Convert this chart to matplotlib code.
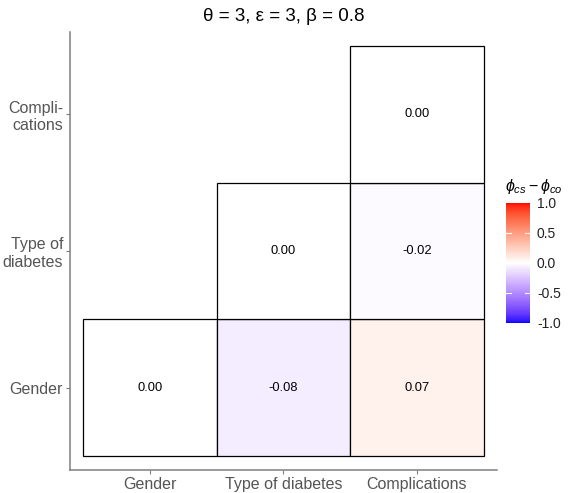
import numpy as np
import matplotlib
matplotlib.use("Agg")
import matplotlib.pyplot as plt
from matplotlib.colors import ListedColormap, Normalize
from matplotlib.patches import Rectangle

plt.rcParams['font.family'] = ['Liberation Sans', 'DejaVu Sans']
plt.rcParams['mathtext.fontset'] = 'custom'
plt.rcParams['mathtext.rm'] = 'Liberation Sans'
plt.rcParams['mathtext.it'] = 'Liberation Sans:italic'

# Variables and the lower-triangular matrix of differences
variables = ["Gender", "Type of diabetes", "Complications"]
y_labels = ["Gender", "Type of\ndiabetes", "Compli-\ncations"]
# (column index, row index, value)
cell_x = [0, 1, 2, 1, 2, 2]
cell_y = [0, 0, 0, 1, 1, 2]
cell_val = [0.00, -0.08, 0.07, 0.00, -0.02, 0.00]
cbar_ticks = [-1.0, -0.5, 0.0, 0.5, 1.0]
title = r"θ = 3, ε = 3, β = 0.8"


# Diverging blue-white-red palette interpolated in CIE Lab
def srgb_to_lab(rgb):
    rgb = np.asarray(rgb, float)
    lin = np.where(rgb <= 0.04045, rgb / 12.92, ((rgb + 0.055) / 1.055) ** 2.4)
    M = np.array([[0.4124, 0.3576, 0.1805],
                  [0.2126, 0.7152, 0.0722],
                  [0.0193, 0.1192, 0.9505]])
    xyz = M @ lin
    white = np.array([0.95047, 1.0, 1.08883])
    t = xyz / white
    f = np.where(t > 216 / 24389, np.cbrt(t), (24389 / 27 * t + 16) / 116)
    return np.array([116 * f[1] - 16, 500 * (f[0] - f[1]), 200 * (f[1] - f[2])])


def lab_to_srgb(lab):
    L, a, b = lab
    fy = (L + 16) / 116
    fx = fy + a / 500
    fz = fy - b / 200
    def finv(f):
        return np.where(f ** 3 > 216 / 24389, f ** 3, (116 * f - 16) / (24389 / 27))
    white = np.array([0.95047, 1.0, 1.08883])
    xyz = np.array([finv(fx), finv(fy), finv(fz)]) * white
    Minv = np.array([[3.2406, -1.5372, -0.4986],
                     [-0.9689, 1.8758, 0.0415],
                     [0.0557, -0.2040, 1.0570]])
    lin = Minv @ xyz
    lin = np.clip(lin, 0, 1)
    rgb = np.where(lin <= 0.0031308, 12.92 * lin, 1.055 * lin ** (1 / 2.4) - 0.055)
    return np.clip(rgb, 0, 1)


lab_lo = srgb_to_lab([0, 0, 1])
lab_mid = srgb_to_lab([1, 1, 1])
lab_hi = srgb_to_lab([1, 0, 0])
colors = []
for t in np.linspace(0, 1, 255):
    if t < 0.5:
        u = t / 0.5
        colors.append(lab_to_srgb(lab_lo + (lab_mid - lab_lo) * u))
    elif t > 0.5:
        u = (t - 0.5) / 0.5
        colors.append(lab_to_srgb(lab_mid + (lab_hi - lab_mid) * u))
    else:
        colors.append(np.array([1.0, 1.0, 1.0]))
cmap = ListedColormap(colors)
norm = Normalize(-1, 1)

fig = plt.figure(figsize=(5.73, 4.93), dpi=100)
W, H = 573, 493
ax = fig.add_axes([70 / W, (493 - 470) / H, 427 / W, 438 / H])

for cx, cy, v in zip(cell_x, cell_y, cell_val):
    ax.add_patch(Rectangle((cx + 0.5, cy + 0.5), 1, 1, facecolor=cmap(norm(v)),
                           edgecolor='black', linewidth=0.9))
    ax.text(cx + 1, cy + 1, f"{v:.2f}", ha='center', va='center',
            fontsize=9.3, color='black')

ax.set_xlim(0.4, 3.6)
ax.set_ylim(0.4, 3.6)
ax.set_xticks([1, 2, 3])
ax.set_xticklabels(variables)
ax.set_yticks([1, 2, 3])
ax.set_yticklabels(y_labels, ha='right', multialignment='right')
for s in ['top', 'right']:
    ax.spines[s].set_visible(False)
for s in ['left', 'bottom']:
    ax.spines[s].set_color('#7f7f7f')
    ax.spines[s].set_linewidth(1.1)
ax.tick_params(axis='both', colors='#7f7f7f', length=3, width=0.8,
               labelsize=11.5, labelcolor='#555555', pad=2)
ax.set_title(title, fontsize=13.5, pad=8)

# Colour bar
cax = fig.add_axes([506 / W, (493 - 323) / H, 24 / W, 120 / H])
grad = np.linspace(-1, 1, 255).reshape(-1, 1)
cax.imshow(grad, aspect='auto', cmap=cmap, norm=norm, origin='lower',
           extent=[0, 1, -1, 1], interpolation='nearest')
cax.set_xlim(0, 1)
cax.set_ylim(-1, 1)
for s in cax.spines.values():
    s.set_visible(False)
cax.set_xticks([])
cax.yaxis.tick_right()
cax.set_yticks(cbar_ticks)
cax.set_yticklabels([f"{t:.1f}" for t in cbar_ticks])
cax.tick_params(axis='y', length=0, labelsize=10, labelcolor='#222222', pad=5)
for t in cbar_ticks[1:-1]:
    cax.plot([0, 0.2], [t, t], color='white', lw=0.8)
    cax.plot([0.8, 1], [t, t], color='white', lw=0.8)
fig.text(505 / W, (493 - 186) / H, r"$\phi_{cs} - \phi_{co}$", fontsize=11.5,
         ha='left', va='center')

fig.savefig("out.png", dpi=100)
